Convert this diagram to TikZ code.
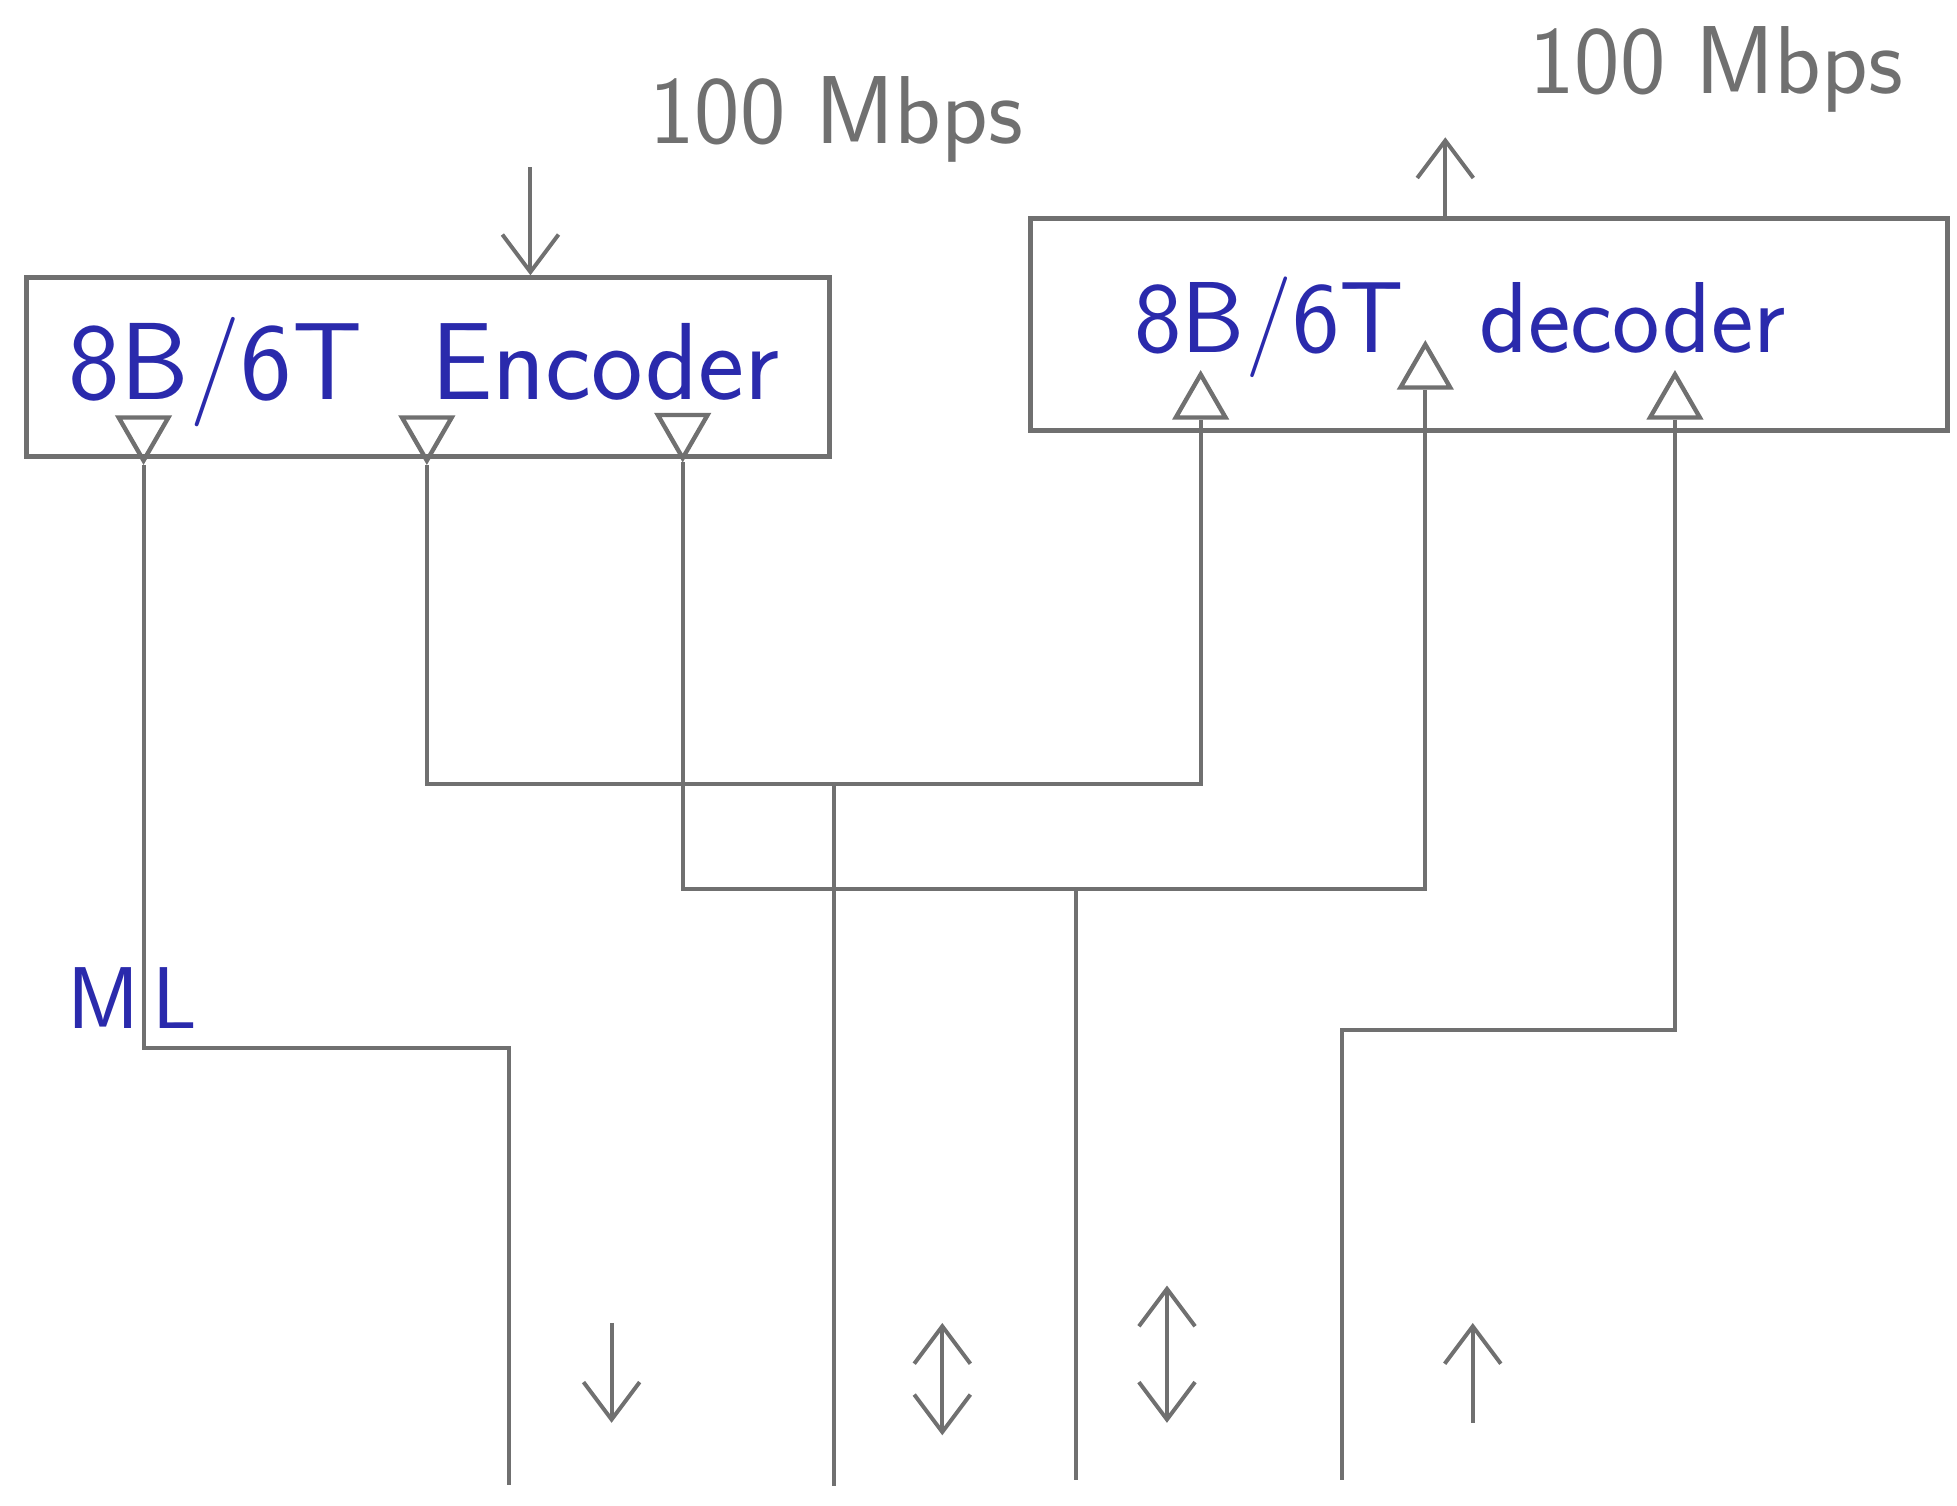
\documentclass[tikz,border=0pt]{standalone}
\usetikzlibrary{arrows.meta,shapes.geometric}
\definecolor{pencil}{RGB}{112,112,112}
\definecolor{inkblue}{RGB}{42,42,172}

\begin{document}
\begin{tikzpicture}[x=1cm,y=1cm]
\tikzset{
  codecbox/.style={draw=pencil,line width=1.1pt,inner sep=0pt},
  codectext/.style={text=inkblue,inner sep=1pt,font=\sffamily\fontsize{25}{30}\selectfont},
  porttri/.style={regular polygon,regular polygon sides=3,draw=pencil,line width=1pt,
    minimum size=4.6mm,inner sep=0pt},
  wire/.style={draw=pencil,line width=0.9pt},
  flow/.style={draw=pencil,line width=0.9pt,-{Straight Barb[length=3mm,width=4.5mm]}},
  bothflow/.style={draw=pencil,line width=0.9pt,
    {Straight Barb[length=3mm,width=4.5mm]}-{Straight Barb[length=3mm,width=4.5mm]}},
  ratelabel/.style={text=pencil,font=\sffamily\fontsize{22}{26}\selectfont},
  inklabel/.style={text=inkblue,inner sep=1pt,font=\sffamily\fontsize{20}{24}\selectfont}
}
\useasboundingbox (0,0) rectangle (15.68,12.06);

% encoder and decoder blocks
\node[codecbox,minimum width=6.43cm,minimum height=1.43cm] (n_enc) at (3.43,9.12) {};
\node[codecbox,minimum width=7.35cm,minimum height=1.70cm] (n_dec) at (11.93,9.46) {};
\node[codectext] (t_enc) at (3.40,9.08) {8B/6T\ \ Encoder};
\node[codectext,font=\sffamily\fontsize{23}{28}\selectfont] (t_dec) at (11.70,9.44) {8B/6T\hspace{6mm}decoder};

% line drivers and receivers
\node[porttri,shape border rotate=180] (n_e1) at (1.15,8.60) {};
\node[porttri,shape border rotate=180] (n_e2) at (3.42,8.60) {};
\node[porttri,shape border rotate=180] (n_e3) at (5.47,8.62) {};
\node[porttri] (n_d1) at (9.62,8.83) {};
\node[porttri] (n_d2) at (11.42,9.07) {};
\node[porttri] (n_d3) at (13.42,8.83) {};

% bends and cable ends
\coordinate (k_tx) at (4.08,3.66);
\coordinate (k_a) at (6.68,5.78);
\coordinate (k_b) at (8.62,4.94);
\coordinate (k_rx) at (10.75,3.81);
\coordinate (b_tx) at (4.08,0.16);
\coordinate (b_a) at (6.68,0.15);
\coordinate (b_b) at (8.62,0.20);
\coordinate (b_rx) at (10.75,0.20);

\draw[wire] (n_e1.south) |- (k_tx) -- (b_tx);
\draw[wire] (n_e2.south) |- (k_a) -| (n_d1.south);
\draw[wire] (k_a) -- (b_a);
\draw[wire] (n_e3.south) |- (k_b) -| (n_d2.south);
\draw[wire] (k_b) -- (b_b);
\draw[wire] (n_d3.south) |- (k_rx) -- (b_rx);

\node[inklabel] (l_ml) at (1.06,4.06) {M\hspace{1mm}L};

% data in and out
\coordinate (s_in) at (4.25,10.72);
\coordinate (s_out) at (11.58,10.96);
\draw[flow] (s_in) -- (s_in |- n_enc.north);
\draw[flow] (s_out |- n_dec.north) -- (s_out);
\node[ratelabel] (l_in) at (6.70,11.10) {100 Mbps};
\node[ratelabel] (l_out) at (13.75,11.50) {100 Mbps};

% directions on the pairs
\coordinate (a_tx1) at (4.90,1.46);
\coordinate (a_tx2) at (4.90,0.66);
\coordinate (a_p1) at (7.55,1.46);
\coordinate (a_p2) at (7.55,0.56);
\coordinate (a_q1) at (9.35,1.76);
\coordinate (a_q2) at (9.35,0.66);
\coordinate (a_rx1) at (11.80,0.66);
\coordinate (a_rx2) at (11.80,1.46);
\draw[flow] (a_tx1) -- (a_tx2);
\draw[bothflow] (a_p1) -- (a_p2);
\draw[bothflow] (a_q1) -- (a_q2);
\draw[flow] (a_rx1) -- (a_rx2);
\end{tikzpicture}
\end{document}
